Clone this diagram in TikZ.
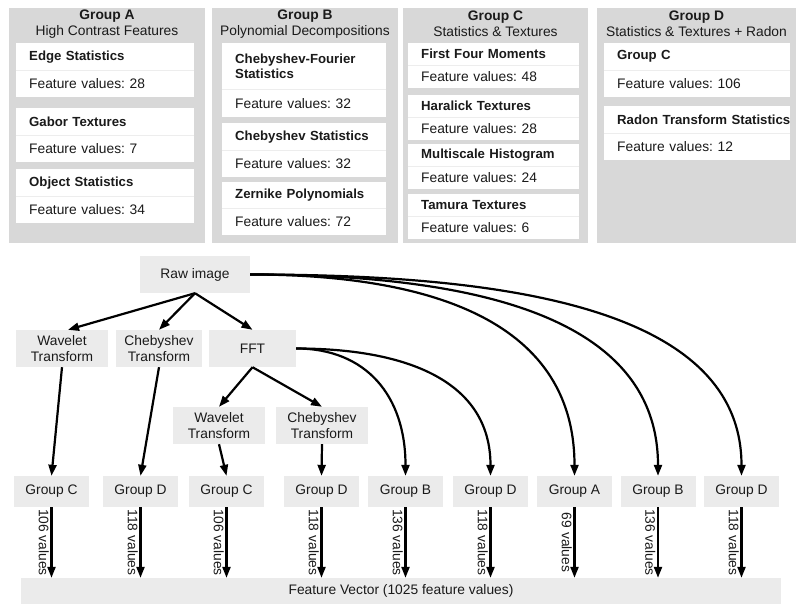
\documentclass[tikz,border=0pt]{standalone}
\usepackage{fontspec}
\setmainfont{Liberation Sans}
\usetikzlibrary{positioning,arrows.meta}
\definecolor{panelgray}{HTML}{D8D8D8}
\definecolor{stagegray}{HTML}{EBEBEB}
\definecolor{rulegray}{HTML}{EDEDED}
\definecolor{ink}{HTML}{1A1A1A}
\newcommand{\fv}{\fontsize{13.8}{16}\selectfont\frenchspacing}
\newcommand{\fb}{\fontsize{13.2}{15.5}\selectfont\bfseries}
\tikzset{
  panel/.style={fill=panelgray, anchor=north west, inner sep=0pt},
  heading/.style={align=center, text=ink, font=\fv, inner sep=0pt},
  cardtitle/.style={fill=white, anchor=north west, inner xsep=13pt, inner ysep=0pt,
                    text width=#1, align=left, text=ink, font=\fb},
  cardvalue/.style={fill=white, inner xsep=13pt, inner ysep=0pt,
                    text width=#1, align=left, text=ink, font=\fv},
  divider/.style={draw=rulegray, line width=0.6pt},
  stage/.style={fill=stagegray, inner sep=0pt, align=center, text=ink, font=\fv},
  flow/.style={line width=2.2pt, -{Triangle[length=11pt,width=8pt]}},
  vallabel/.style={midway, rotate=-90, anchor=north, inner sep=1.5pt, text=ink, font=\fv}
}

\begin{document}
\begin{tikzpicture}[x=1pt, y=-1pt]
  \useasboundingbox (0,0) rectangle (800,610);

  % feature groups
  \node[panel, minimum width=196pt, minimum height=235pt] (pA) at (9,8) {};
  \node[panel, minimum width=186pt, minimum height=235pt] (pB) at (212,8) {};
  \node[panel, minimum width=185pt, minimum height=235pt] (pC) at (403,8) {};
  \node[panel, minimum width=199pt, minimum height=235pt] (pD) at (597,8) {};

  \node[heading] (hA) at (107,24) {\textbf{Group A}\\High Contrast Features};
  \node[heading] (hB) at (305,24) {\textbf{Group B}\\Polynomial Decompositions};
  \node[heading] (hC) at (495.5,24) {\textbf{Group C}\\Statistics \& Textures};
  \node[heading] (hD) at (696.5,24) {\textbf{Group D}\\Statistics \& Textures + Radon};

  % group A
  \node[cardtitle=152pt, minimum height=27pt] (a1t) at (16,43) {Edge Statistics};
  \node[cardvalue=152pt, minimum height=26pt, below=0pt of a1t] (a1v) {Feature values: 28};
  \node[cardtitle=152pt, minimum height=27pt] (a2t) at (16,108) {Gabor Textures};
  \node[cardvalue=152pt, minimum height=26pt, below=0pt of a2t] (a2v) {Feature values: 7};
  \node[cardtitle=152pt, minimum height=27pt] (a3t) at (16,169) {Object Statistics};
  \node[cardvalue=152pt, minimum height=26pt, below=0pt of a3t] (a3v) {Feature values: 34};

  % group B
  \node[cardtitle=138pt, minimum height=46pt] (b1t) at (222,43) {Chebyshev-Fourier\\Statistics};
  \node[cardvalue=138pt, minimum height=27pt, below=0pt of b1t] (b1v) {Feature values: 32};
  \node[cardtitle=138pt, minimum height=27pt] (b2t) at (222,123) {\mbox{Chebyshev Statistics}};
  \node[cardvalue=138pt, minimum height=26pt, below=0pt of b2t] (b2v) {Feature values: 32};
  \node[cardtitle=138pt, minimum height=26pt] (b3t) at (222,182) {Zernike Polynomials};
  \node[cardvalue=138pt, minimum height=26pt, below=0pt of b3t] (b3v) {Feature values: 72};

  % group C
  \node[cardtitle=145pt, minimum height=22pt] (c1t) at (408,43) {First Four Moments};
  \node[cardvalue=145pt, minimum height=22pt, below=0pt of c1t] (c1v) {Feature values: 48};
  \node[cardtitle=145pt, minimum height=22pt] (c2t) at (408,95) {Haralick Textures};
  \node[cardvalue=145pt, minimum height=22pt, below=0pt of c2t] (c2v) {Feature values: 28};
  \node[cardtitle=145pt, minimum height=22pt] (c3t) at (408,144) {Multiscale Histogram};
  \node[cardvalue=145pt, minimum height=22pt, below=0pt of c3t] (c3v) {Feature values: 24};
  \node[cardtitle=145pt, minimum height=22pt] (c4t) at (408,194) {Tamura Textures};
  \node[cardvalue=145pt, minimum height=22pt, below=0pt of c4t] (c4v) {Feature values: 6};

  % group D
  \node[cardtitle=160pt, minimum height=27pt] (d1t) at (604,43) {Group C};
  \node[cardvalue=160pt, minimum height=26pt, below=0pt of d1t] (d1v) {Feature values: 106};
  \node[cardtitle=160pt, minimum height=27pt] (d2t) at (604,106) {\mbox{Radon Transform Statistics}};
  \node[cardvalue=160pt, minimum height=26pt, below=0pt of d2t] (d2v) {Feature values: 12};

  \foreach \c in {a1t,a2t,a3t,b1t,b2t,b3t,c1t,c2t,c3t,c4t,d1t,d2t}
    \draw[divider] (\c.south west) -- (\c.south east);

  % transforms
  \node[stage, minimum width=110pt, minimum height=37pt] (raw) at (195,274.5) {Raw image};
  \node[stage, minimum width=92pt, minimum height=37pt] (wav) at (62,348.5) {Wavelet\\Transform};
  \node[stage, minimum width=86pt, minimum height=37pt] (cheb) at (159,348.5) {Chebyshev\\Transform};
  \node[stage, minimum width=87pt, minimum height=37pt] (fft) at (252.5,348.5) {FFT};
  \node[stage, minimum width=92pt, minimum height=37pt] (fwav) at (219,425.5) {Wavelet\\Transform};
  \node[stage, minimum width=92pt, minimum height=37pt] (fcheb) at (322,425.5) {Chebyshev\\Transform};

  \node[stage, minimum width=760pt, minimum height=26pt] (vec) at (401,591) {Feature Vector (1025 feature values)};

  % groups computed and their share of the vector
  \foreach \n/\x/\g/\v in {gC1/51.5/C/106, gD1/140.5/D/118, gC2/226.5/C/106,
                           gD2/321.5/D/118, gB1/405.5/B/136, gD3/490.5/D/118,
                           gA1/574.5/A/69, gB2/658/B/136, gD4/741.5/D/118} {
    \node[stage, minimum width=75pt, minimum height=31pt] (\n) at (\x,491.5) {Group \g};
    \draw[flow] (\n.south) -- (\n.south |- vec.north) node[vallabel] {\v\ values};
  }

  \draw[flow] (raw.south) -- ([xshift=6pt]wav.north);
  \draw[flow] (raw.south) -- (cheb.north);
  \draw[flow] (raw.south) -- (fft.north);
  \draw[flow] (fft.south) -- (fwav.north);
  \draw[flow] (fft.south) -- (fcheb.north);

  \draw[flow] (wav.south) -- (gC1.north);
  \draw[flow] (cheb.south) -- (gD1.north);
  \draw[flow] (fwav.south) -- (gC2.north);
  \draw[flow] (fcheb.south) -- (gD2.north);

  \draw[flow] (fft.east) .. controls +(70,0) and +(0,-80) .. (gB1.north);
  \draw[flow] (fft.east) .. controls +(110,0) and +(0,-95) .. (gD3.north);
  \draw[flow] (raw.east) .. controls +(170,0) and +(0,-160) .. (gA1.north);
  \draw[flow] (raw.east) .. controls +(210,0) and +(0,-165) .. (gB2.north);
  \draw[flow] (raw.east) .. controls +(250,0) and +(0,-170) .. (gD4.north);
\end{tikzpicture}
\end{document}
